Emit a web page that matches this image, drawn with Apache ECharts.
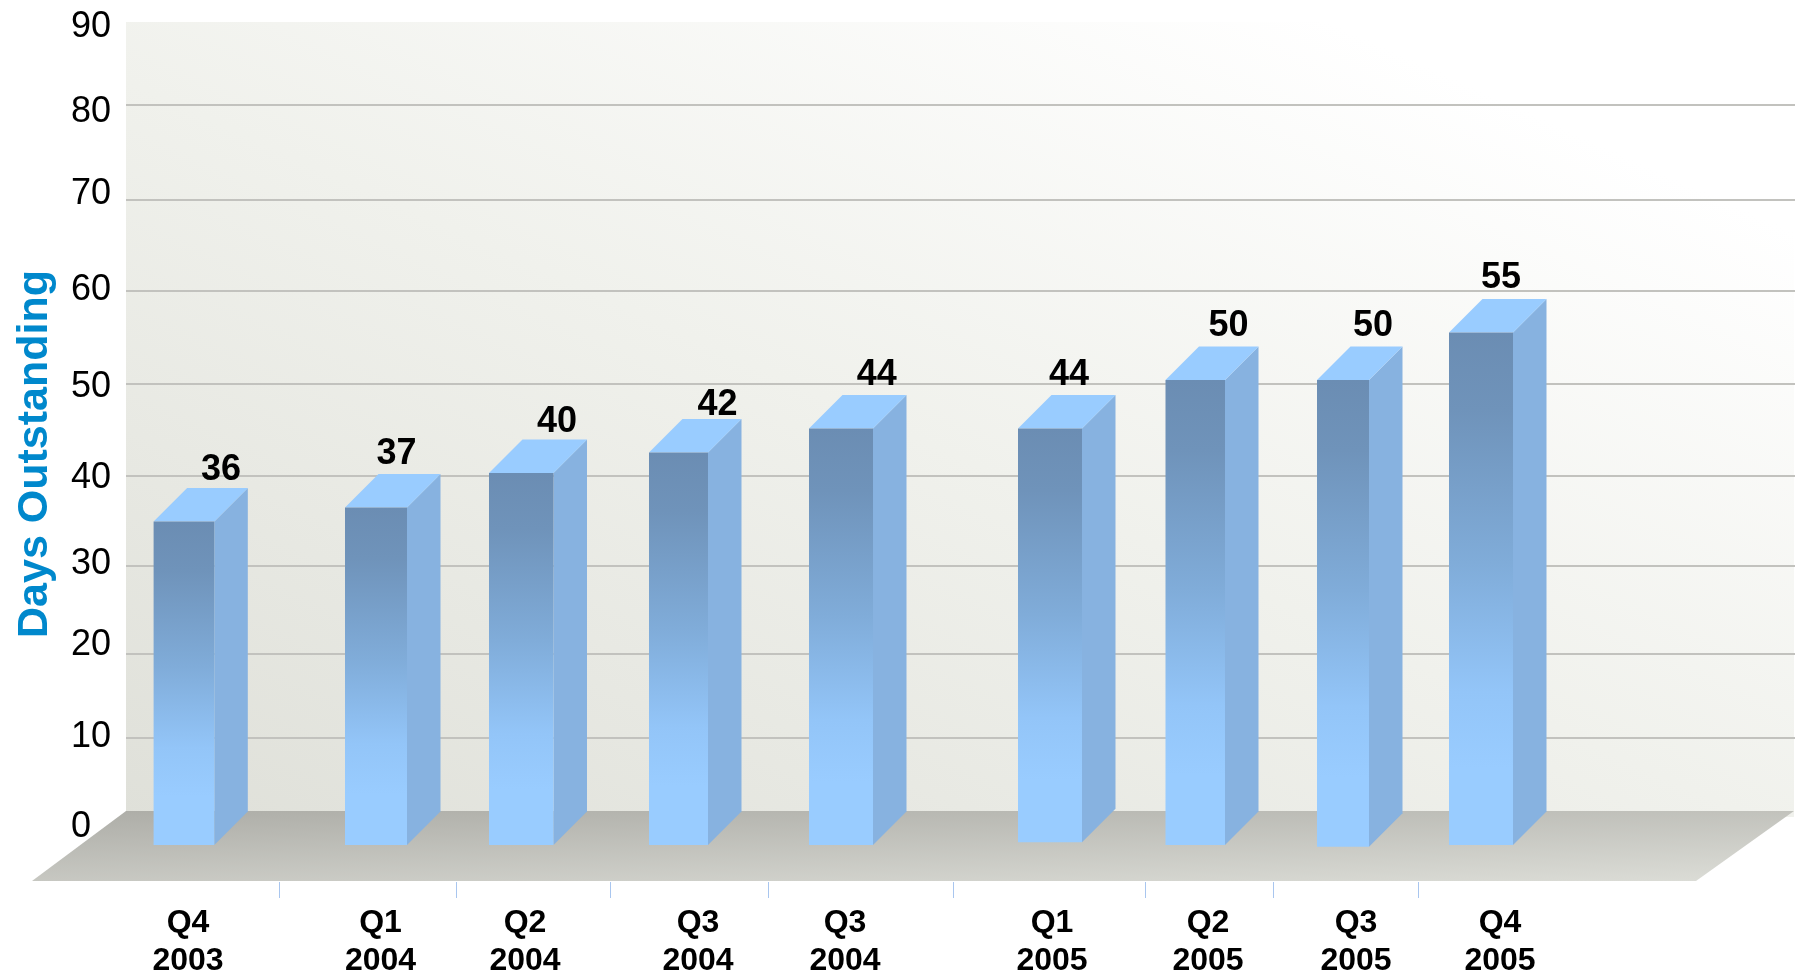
<!DOCTYPE html>
<html>
<head>
<meta charset="utf-8">
<style>html,body{margin:0;padding:0;background:#fff}#c{width:1797px;height:978px}</style>
<script src="https://cdn.jsdelivr.net/npm/echarts@6/dist/echarts.min.js"></script>
</head>
<body>
<div id="c"></div>
<script>
// ---- data ----
const quarters = ['Q4\n2003','Q1\n2004','Q2\n2004','Q3\n2004','Q3\n2004','Q1\n2005','Q2\n2005','Q3\n2005','Q4\n2005'];
const printedValues = [36,37,40,42,44,44,50,50,55];
// heights of the bars as drawn in the picture (front face, days)
const drawnValues = [34.8,36.3,40,42.2,44.8,44.8,50,50,55.1];
const drawnBases = [0,0,0,0,0,0.3,0,-0.2,0];
const yTickLabels = ['0','10','20','30','40','50','60','70','80','90'];

// ---- layout (x scale = page pixels, y scale = days on the bars' front plane) ----
const barLeft   = [153.6,345,489,649,809,1018,1165.5,1317,1449];
const barRight  = [214.3,407,553.5,708,873,1082,1225,1369,1513];
const valueLabelX = [221,396.5,557,717.4,876.7,1069,1228.5,1373,1501];
const valueLabelLift = [17.4,19.7,17.3,13.8,19.8,19.8,20.7,20.7,21.2];
const categoryLabelX = [188,380.5,525,698,845,1052,1208,1356,1500];
const separatorX = [279.6,456,610,768,953.5,1145,1273,1418];
const yLabelAt = [1.9,11.62,21.45,30.25,39.45,49.25,59.65,69.95,78.85,87.95];
const wallLineAt = [11.54,20.6,30,39.72,49.57,59.57,69.43,79.57];
const depth = 33.5;

const FONT = '"Liberation Sans", Arial, sans-serif';
const frontFill = {type:'linear',x:0,y:0,x2:0,y2:1,colorStops:[
  {offset:0,color:'#6b8db3'},{offset:0.15,color:'#6f93ba'},{offset:0.45,color:'#80acd9'},
  {offset:0.7,color:'#93c5f8'},{offset:0.85,color:'#99ccff'},{offset:1,color:'#99ccff'}]};

const chart = echarts.init(document.getElementById('c'), null, {renderer:'canvas'});
chart.setOption({
  backgroundColor:'#ffffff',
  animation:false,
  grid:{left:126,top:22,width:1669,height:823,containLabel:false,outerBoundsMode:'none'},
  graphic:[
    {type:'rect',z:-10,silent:true,shape:{x:126,y:22,width:1668,height:795},
     style:{fill:{type:'linear',global:true,x:126,y:817,x2:629,y2:-295,colorStops:[
       {offset:0,color:'#dfe0d9'},{offset:0.55,color:'#f0f1ec'},{offset:1,color:'#ffffff'}]}}},
    {type:'polygon',z:-9,silent:true,shape:{points:[[126,811],[1794,811],[1696,881],[32,881]]},
     style:{fill:{type:'linear',global:true,x:126,y:811,x2:130,y2:935,colorStops:[
       {offset:0,color:'#aeaea8'},{offset:1,color:'#dcddd7'}]}}}
  ],
  xAxis:{type:'value',min:126,max:1795,offset:37,position:'bottom',
    axisLine:{show:false,onZero:false},splitLine:{show:false},
    axisTick:{show:true,length:16,customValues:separatorX,lineStyle:{color:'#a9c6ef',width:1}},
    axisLabel:{show:true,customValues:categoryLabelX,margin:22,color:'#000',
      fontFamily:FONT,fontWeight:'bold',fontSize:32,lineHeight:38,
      formatter:(v)=>quarters[categoryLabelX.indexOf(v)]}},
  yAxis:{type:'value',min:0,max:88.5,z:1,
    name:'Days Outstanding',nameLocation:'middle',nameGap:69,nameRotate:90,
    nameTextStyle:{color:'#0088cc',fontFamily:FONT,fontWeight:'bold',fontSize:43,padding:[0,41,0,0]},
    axisLine:{show:false},
    axisTick:{show:false,customValues:wallLineAt},
    splitLine:{show:true,lineStyle:{color:'#c2c2be',width:2}},
    axisLabel:{show:true,customValues:yLabelAt,margin:55,align:'left',color:'#000',fontFamily:FONT,fontSize:36,
      formatter:(v)=>yTickLabels[yLabelAt.indexOf(v)]}},
  series:[{
    type:'custom',coordinateSystem:'cartesian2d',z:5,clip:false,
    encode:{x:0,y:2},
    data:drawnValues.map((v,i)=>[barLeft[i],barRight[i],v,drawnBases[i]]),
    renderItem:(params,api)=>{
      const i=params.dataIndex;
      const tl=api.coord([api.value(0),api.value(2)]);
      const br=api.coord([api.value(1),api.value(3)]);
      const x0=tl[0],y0=tl[1],x1=br[0],y1=br[1];
      return {type:'group',children:[
        {type:'polygon',shape:{points:[[x1,y0],[x1+depth,y0-depth],[x1+depth,y1-depth],[x1,y1]]},style:{fill:'#87b2e0'}},
        {type:'polygon',shape:{points:[[x0,y0],[x0+depth,y0-depth],[x1+depth,y0-depth],[x1,y0]]},style:{fill:'#99ccff'}},
        {type:'rect',shape:{x:x0,y:y0,width:x1-x0,height:y1-y0},style:{fill:frontFill}},
        {type:'text',style:{x:valueLabelX[i],y:y0-depth-valueLabelLift[i],text:String(printedValues[i]),
          fill:'#000',font:'bold 36px '+FONT,align:'center',verticalAlign:'middle'}}
      ]};
    }
  }]
});
</script>
</body>
</html>
